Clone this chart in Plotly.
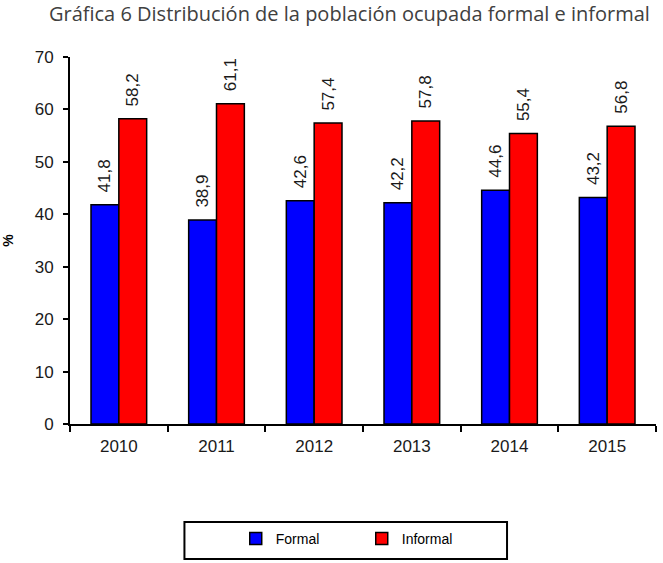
import plotly.graph_objects as go

years = ["2010", "2011", "2012", "2013", "2014", "2015"]
formal = [41.8, 38.9, 42.6, 42.2, 44.6, 43.2]
informal = [58.2, 61.1, 57.4, 57.8, 55.4, 56.8]
y_ticks = [0, 10, 20, 30, 40, 50, 60, 70]
title_text = "Gráfica 6 Distribución de la población ocupada formal e informal"

ARIAL = "Liberation Sans, Arial, sans-serif"
lab_font = dict(family=ARIAL, size=17, color="#1a1a1a")


def fmt(v):
    # decimal comma, with two no-break spaces as padding towards the bar
    return "\u00a0\u00a0" + f"{v:.1f}".replace(".", ",")


fig = go.Figure()
fig.add_trace(go.Bar(
    x=years, y=formal, name="Formal",
    marker=dict(color="#0000FF", line=dict(color="#000000", width=1.5)),
    text=[fmt(v) for v in formal],
    textposition="outside", textangle=-90, cliponaxis=False, constraintext="none",
    textfont=lab_font, hoverinfo="skip",
))
fig.add_trace(go.Bar(
    x=years, y=informal, name="Informal",
    marker=dict(color="#FF0000", line=dict(color="#000000", width=1.5)),
    text=[fmt(v) for v in informal],
    textposition="outside", textangle=-90, cliponaxis=False, constraintext="none",
    textfont=lab_font, hoverinfo="skip",
))

fig.update_layout(
    width=663, height=563,
    margin=dict(l=62, r=7, t=57, b=139),
    paper_bgcolor="white", plot_bgcolor="white",
    barmode="group", bargap=0.43, bargroupgap=0,
    title=dict(text=title_text, x=0.527, xanchor="center", y=0.975, yanchor="middle",
               font=dict(family="Open Sans, sans-serif", size=20, color="#404040")),
    showlegend=True,
    legend=dict(orientation="h", x=(230 - 62) / 594, xanchor="left", y=-0.313, yanchor="middle",
                bgcolor="rgba(0,0,0,0)", borderwidth=0, entrywidth=81,
                font=dict(family=ARIAL, size=14, color="#000000"),
                itemclick=False),
    xaxis=dict(type="category", showline=True, linecolor="#000000", linewidth=2,
               ticks="outside", tickson="boundaries", ticklen=6, tickcolor="#000000", tickwidth=2,
               tickfont=lab_font, showgrid=False, ticklabelstandoff=6),
    yaxis=dict(range=[0, 70], tickvals=y_ticks, showline=True, linecolor="#000000", linewidth=2,
               ticks="outside", ticklen=5, tickcolor="#000000", tickwidth=2,
               tickfont=lab_font, showgrid=False, zeroline=False, ticklabelstandoff=6,
               title=dict(text="<b>%</b>", standoff=18,
                          font=dict(family=ARIAL, size=14, color="#000000"))),
    shapes=[dict(type="rect", xref="paper", yref="paper", x0=(178 - 62) / 594, x1=(505 - 62) / 594,
                 y0=-(559 - 424) / 367, y1=-(522 - 424) / 367,
                 line=dict(color="#000000", width=2), fillcolor="rgba(0,0,0,0)")],
)

fig.write_html("out.html", config={"displayModeBar": False},
               post_script="document.body.style.margin='0';")
